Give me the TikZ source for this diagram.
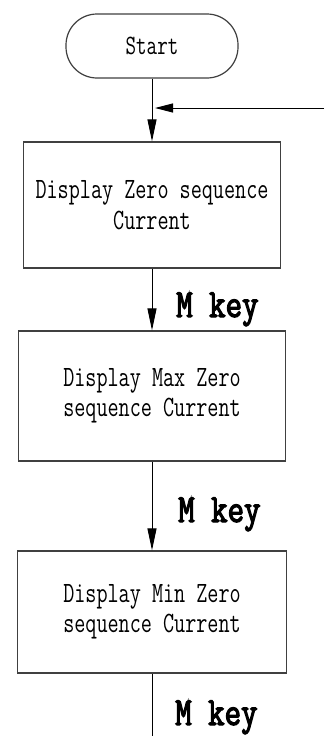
\documentclass[tikz,border=0pt]{standalone}
\usepackage{fontspec}
\newfontfamily\boxfont[FakeStretch=0.73]{Latin Modern Mono}
\newfontfamily\keyfont[FakeStretch=0.8,FakeBold=3]{Latin Modern Mono}
\usetikzlibrary{arrows.meta}
\begin{document}
\begin{tikzpicture}[x=1pt,y=-1pt,
  procbox/.style={draw=black!75,line width=1.2pt,rectangle,align=center,
    font=\boxfont\fontsize{29.5}{30.5}\selectfont,inner sep=0pt},
  termbox/.style={draw=black!75,line width=1.2pt,rectangle,rounded corners=31pt,
    font=\boxfont\fontsize{28}{28}\selectfont,inner sep=0pt},
  conn/.style={draw=black,line width=1pt},
  arr/.style={conn,-{Triangle[length=22pt,width=9pt]}},
  keylbl/.style={font=\keyfont\fontsize{40}{42}\selectfont,anchor=base west,inner sep=0pt}]
\useasboundingbox (0,0) rectangle (324,736);
\fill[white] (0,0) rectangle (324,736);
\node[termbox,minimum width=172pt,minimum height=64pt] (start) at (152,46) {Start};
\node[procbox,minimum width=257pt,minimum height=126pt] (box1) at (152,205)
  {Display Zero sequence\\Current};
\node[procbox,minimum width=267pt,minimum height=130pt] (box2) at (152,396)
  {Display Max Zero\\sequence Current};
\node[procbox,minimum width=269pt,minimum height=122pt] (box3) at (152,612)
  {Display Min Zero\\sequence Current};
\coordinate (fb) at (324,108);
\coordinate (fbtip) at (155,108);
\coordinate (bottom) at (152,736);
\draw[arr] (start.south) -- (box1.north);
\draw[conn,-{Triangle[length=18pt,width=9pt]}] (fb) -- (fbtip);
\draw[arr] (box1.south) -- (box2.north);
\draw[arr] (box2.south) -- (box3.north);
\draw[conn] (box3.south) -- (bottom);
\node[keylbl] (k1) at (176,317) {M key};
\node[keylbl] (k2) at (178,522) {M key};
\node[keylbl] (k3) at (175,725) {M key};
\end{tikzpicture}
\end{document}
